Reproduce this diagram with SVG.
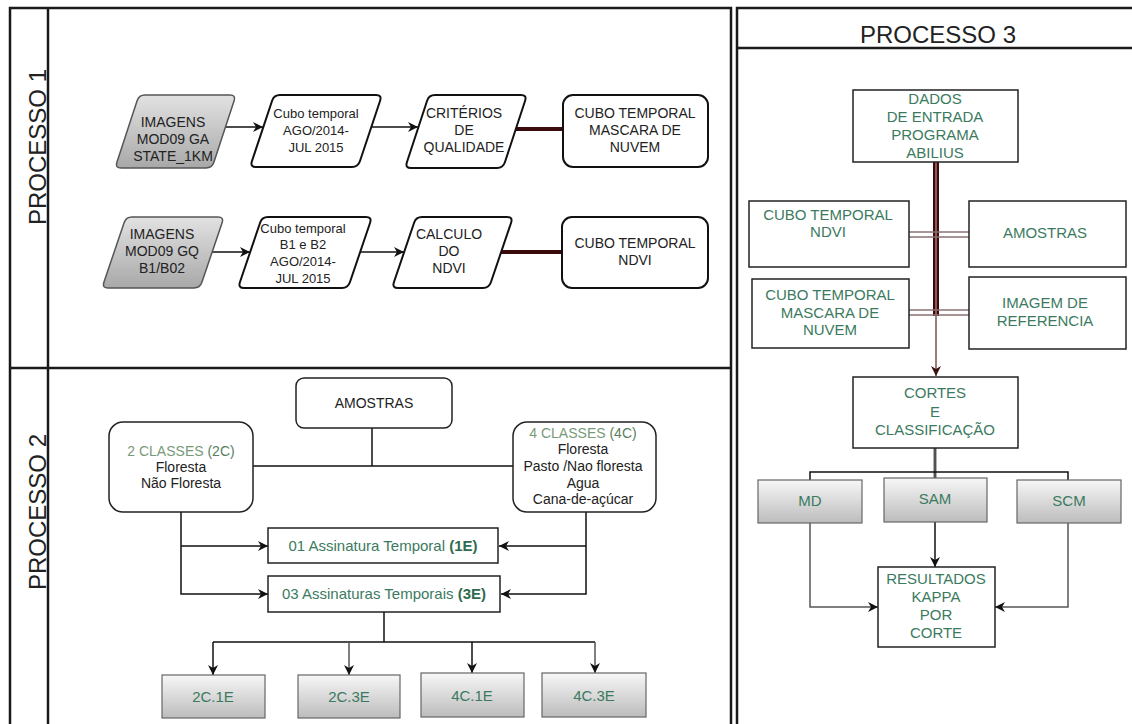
<svg xmlns="http://www.w3.org/2000/svg" width="1132" height="724" viewBox="0 0 1132 724">
<defs>
<linearGradient id="gPar" x1="0" y1="0" x2="0" y2="1"><stop offset="0" stop-color="#e2e2e2"/><stop offset="1" stop-color="#a8a8a8"/></linearGradient>
<linearGradient id="gBox" x1="0" y1="0" x2="0" y2="1"><stop offset="0" stop-color="#f7f7f7"/><stop offset="1" stop-color="#bcbcbc"/></linearGradient>
<marker id="ah" viewBox="0 0 10 10" refX="10" refY="5" markerWidth="10" markerHeight="10" orient="auto" markerUnits="userSpaceOnUse"><path d="M0,0 L10,5 L0,10 L3,5 Z" fill="#111"/></marker>
<marker id="ahm" viewBox="0 0 10 10" refX="10" refY="5" markerWidth="10" markerHeight="10" orient="auto" markerUnits="userSpaceOnUse"><path d="M0,0 L10,5 L0,10 L3,5 Z" fill="#3a1010"/></marker>
<style>
text{font-family:"Liberation Sans",Arial,sans-serif;text-anchor:middle;}
.frame{fill:none;stroke:#1a1a1a;stroke-width:2.5;}
.title{font-size:24px;fill:#222;}
.p1{fill:#fff;stroke:#111;stroke-width:2;}
.p1g{fill:url(#gPar);stroke:#555;stroke-width:1.5;}
.t13{font-size:13px;fill:#222;}
.t14{font-size:14px;fill:#222;}
.box{fill:#fff;stroke:#222;stroke-width:1.5;}
.gbox{fill:url(#gBox);stroke:#666;stroke-width:1.2;}
.grn{font-size:15px;fill:#3b7a5e;}
.grnb{font-weight:bold;fill:#2f6b4f;}
.ln{fill:none;stroke:#111;stroke-width:1.5;}
.lng{fill:none;stroke:#555;stroke-width:1.5;}
.thick{fill:none;stroke:#3b0b0b;stroke-width:4;}
</style>
</defs>

<!-- frames -->
<g id="frames">
<rect class="frame" x="10" y="8" width="721" height="730"/>
<line class="frame" x1="48" y1="8" x2="48" y2="730"/>
<line class="frame" x1="10" y1="368" x2="731" y2="368"/>
<rect class="frame" x="737" y="8" width="400" height="730"/>
<line class="frame" x1="737" y1="48" x2="1137" y2="48"/>
<text class="title" transform="translate(46,147) rotate(-90)">PROCESSO 1</text>
<text class="title" transform="translate(46,512) rotate(-90)">PROCESSO 2</text>
<text class="title" x="938" y="43">PROCESSO 3</text>
</g>

<!-- connectors -->
<g id="connectors">
<!-- process 1 -->
<line class="ln" x1="226" y1="127" x2="263" y2="127" marker-end="url(#ah)"/>
<line class="ln" x1="371" y1="127" x2="418" y2="127" marker-end="url(#ah)"/>
<line class="thick" x1="515" y1="129" x2="563" y2="129"/>
<line class="ln" x1="212" y1="252" x2="250" y2="252" marker-end="url(#ah)"/>
<line class="ln" x1="360" y1="252" x2="404" y2="252" marker-end="url(#ah)"/>
<line class="thick" x1="501" y1="252" x2="562" y2="252"/>
<!-- process 2 -->
<line class="ln" x1="372" y1="428" x2="372" y2="466"/>
<line class="ln" x1="253" y1="466" x2="513" y2="466"/>
<polyline class="ln" points="181,512 181,594 268,594" marker-end="url(#ah)"/>
<line class="ln" x1="181" y1="546" x2="268" y2="546" marker-end="url(#ah)"/>
<polyline class="ln" points="586,512 586,594 501,594" marker-end="url(#ah)"/>
<line class="ln" x1="586" y1="546" x2="499" y2="546" marker-end="url(#ah)"/>
<line class="ln" x1="384" y1="612" x2="384" y2="642"/>
<line class="ln" x1="213" y1="642" x2="595" y2="642"/>
<line class="ln" x1="213" y1="642" x2="213" y2="675" marker-end="url(#ah)"/>
<line class="lng" x1="349" y1="642" x2="349" y2="675" marker-end="url(#ah)"/>
<line class="ln" x1="472" y1="642" x2="472" y2="673" marker-end="url(#ah)"/>
<line class="lng" x1="595" y1="642" x2="595" y2="673" marker-end="url(#ah)"/>
<!-- process 3 -->
<line x1="936" y1="162" x2="936" y2="316" stroke="#3b0b0b" stroke-width="6"/>
<line x1="936" y1="162" x2="936" y2="316" stroke="#8a5a5a" stroke-width="2"/>
<g stroke="#8a7070" stroke-width="1.3">
<line x1="909" y1="232" x2="969" y2="232"/>
<line x1="909" y1="237" x2="969" y2="237"/>
<line x1="909" y1="310" x2="969" y2="310"/>
<line x1="909" y1="315" x2="969" y2="315"/>
</g>
<line x1="936" y1="316" x2="936" y2="376" stroke="#7a5050" stroke-width="1.5" marker-end="url(#ahm)"/>
<line x1="935" y1="448" x2="935" y2="478" stroke="#999" stroke-width="3.5"/>
<line x1="935" y1="448" x2="935" y2="478" stroke="#222" stroke-width="1.2"/>
<polyline class="ln" points="810,480 810,472 1068,472 1068,480" stroke="#333"/>
<line class="ln" x1="935" y1="522" x2="935" y2="567" marker-end="url(#ah)"/>
<polyline class="lng" points="810,523 810,607 878,607" marker-end="url(#ah)"/>
<polyline class="lng" points="1068,523 1068,607 995,607" marker-end="url(#ah)"/>
</g>

<!-- process 1 nodes -->
<g id="n-mod09ga">
<path class="p1g" d="M145,95 H230 Q236,95 234.1,100.7 L213.9,162.3 Q212,168 206,168 H121 Q115,168 116.9,162.3 L137.1,100.7 Q139,95 145,95 Z"/>
<text class="t14" x="173" y="127">IMAGENS</text>
<text class="t14" x="173" y="144">MOD09 GA</text>
<text class="t14" x="173" y="161">STATE_1KM</text>
</g>
<g id="n-cubo1">
<path class="p1" d="M280,95 H376 Q382,95 380.1,100.7 L359.9,161.3 Q358,167 352,167 H256 Q250,167 251.9,161.3 L272.1,100.7 Q274,95 280,95 Z"/>
<text class="t13" x="316" y="118">Cubo temporal</text>
<text class="t13" x="316" y="135">AGO/2014-</text>
<text class="t13" x="316" y="152">JUL 2015</text>
</g>
<g id="n-criterios">
<path class="p1" d="M435,95 H521 Q527,95 525.1,100.7 L504.9,162.3 Q503,168 497,168 H411 Q405,168 406.9,162.3 L427.1,100.7 Q429,95 435,95 Z"/>
<text class="t14" x="464" y="118">CRITÉRIOS</text>
<text class="t14" x="464" y="135">DE</text>
<text class="t14" x="464" y="152">QUALIDADE</text>
</g>
<g id="n-mascara">
<rect class="p1" x="563" y="95" width="145" height="72" rx="10"/>
<text class="t14" x="635" y="118">CUBO TEMPORAL</text>
<text class="t14" x="635" y="135">MASCARA DE</text>
<text class="t14" x="635" y="152">NUVEM</text>
</g>
<g id="n-mod09gq">
<path class="p1g" d="M132,217 H218 Q224,217 222.1,222.7 L201.9,282.3 Q200,288 194,288 H108 Q102,288 103.9,282.3 L124.1,222.7 Q126,217 132,217 Z"/>
<text class="t14" x="162" y="239">IMAGENS</text>
<text class="t14" x="162" y="256">MOD09 GQ</text>
<text class="t14" x="162" y="273">B1/B02</text>
</g>
<g id="n-cubo2">
<path class="p1" d="M268,217 H366 Q372,217 370.1,222.7 L349.9,282.3 Q348,288 342,288 H244 Q238,288 239.9,282.3 L260.1,222.7 Q262,217 268,217 Z"/>
<text class="t13" x="303" y="233">Cubo temporal</text>
<text class="t13" x="303" y="249">B1 e B2</text>
<text class="t13" x="303" y="266">AGO/2014-</text>
<text class="t13" x="303" y="283">JUL 2015</text>
</g>
<g id="n-ndvi-calc">
<path class="p1" d="M422,217 H507 Q513,217 511.1,222.7 L490.9,282.3 Q489,288 483,288 H398 Q392,288 393.9,282.3 L414.1,222.7 Q416,217 422,217 Z"/>
<text class="t14" x="449" y="239">CALCULO</text>
<text class="t14" x="449" y="256">DO</text>
<text class="t14" x="449" y="273">NDVI</text>
</g>
<g id="n-cubo-ndvi">
<rect class="p1" x="562" y="217" width="146" height="71" rx="10"/>
<text class="t14" x="635" y="248">CUBO TEMPORAL</text>
<text class="t14" x="635" y="265">NDVI</text>
</g>

<!-- process 2 nodes -->
<g id="n-amostras2">
<rect class="box" x="296" y="378" width="156" height="50" rx="8"/>
<text class="t14" x="374" y="408">AMOSTRAS</text>
</g>
<g id="n-2c">
<rect class="box" x="109" y="422" width="144" height="90" rx="14"/>
<text class="t14" x="181" y="456"><tspan fill="#789a78">2 CLASSES </tspan><tspan fill="#5a8060">(2C)</tspan></text>
<text class="t14" x="181" y="472">Floresta</text>
<text class="t14" x="181" y="488">Não Floresta</text>
</g>
<g id="n-4c">
<rect class="box" x="513" y="422" width="143" height="90" rx="14"/>
<text class="t14" x="583" y="438"><tspan fill="#789a78">4 CLASSES </tspan><tspan fill="#5a8060">(4C)</tspan></text>
<text class="t14" x="583" y="454">Floresta</text>
<text class="t14" x="583" y="471">Pasto /Nao floresta</text>
<text class="t14" x="583" y="488">Agua</text>
<text class="t14" x="583" y="504">Cana-de-açúcar</text>
</g>
<g id="n-1e">
<rect class="box" x="268" y="528" width="230" height="35"/>
<text class="grn" x="383" y="551">01 Assinatura Temporal <tspan class="grnb">(1E)</tspan></text>
</g>
<g id="n-3e">
<rect class="box" x="268" y="576" width="232" height="36"/>
<text class="grn" x="384" y="599">03 Assinaturas Temporais <tspan class="grnb">(3E)</tspan></text>
</g>
<g id="n-2c1e"><rect class="gbox" x="162" y="675" width="103" height="43"/><text class="grn" x="213" y="702">2C.1E</text></g>
<g id="n-2c3e"><rect class="gbox" x="298" y="675" width="102" height="43"/><text class="grn" x="349" y="702">2C.3E</text></g>
<g id="n-4c1e"><rect class="gbox" x="421" y="673" width="103" height="44"/><text class="grn" x="472" y="701">4C.1E</text></g>
<g id="n-4c3e"><rect class="gbox" x="542" y="673" width="104" height="44"/><text class="grn" x="594" y="701">4C.3E</text></g>

<!-- process 3 nodes -->
<g id="n-dados">
<rect class="box" x="853" y="90" width="165" height="72"/>
<text class="grn" x="935" y="104">DADOS</text>
<text class="grn" x="935" y="122">DE ENTRADA</text>
<text class="grn" x="935" y="140">PROGRAMA</text>
<text class="grn" x="935" y="158">ABILIUS</text>
</g>
<g id="n-p3-ndvi">
<rect class="box" x="749" y="201" width="160" height="66"/>
<text class="grn" x="828" y="220">CUBO TEMPORAL</text>
<text class="grn" x="828" y="237">NDVI</text>
</g>
<g id="n-p3-amostras">
<rect class="box" x="969" y="201" width="157" height="66"/>
<text class="grn" x="1045" y="238">AMOSTRAS</text>
</g>
<g id="n-p3-mascara">
<rect class="box" x="752" y="279" width="157" height="69"/>
<text class="grn" x="830" y="300">CUBO TEMPORAL</text>
<text class="grn" x="830" y="318">MASCARA DE</text>
<text class="grn" x="830" y="335">NUVEM</text>
</g>
<g id="n-p3-imagem">
<rect class="box" x="969" y="277" width="157" height="72"/>
<text class="grn" x="1045" y="308">IMAGEM DE</text>
<text class="grn" x="1045" y="326">REFERENCIA</text>
</g>
<g id="n-cortes">
<rect class="box" x="853" y="377" width="165" height="71"/>
<text class="grn" x="935" y="398">CORTES</text>
<text class="grn" x="935" y="417">E</text>
<text class="grn" x="935" y="435">CLASSIFICAÇÃO</text>
</g>
<g id="n-md"><rect class="gbox" x="758" y="480" width="104" height="43"/><text class="grn" x="810" y="506">MD</text></g>
<g id="n-sam"><rect class="gbox" x="884" y="478" width="103" height="44"/><text class="grn" x="935" y="504">SAM</text></g>
<g id="n-scm"><rect class="gbox" x="1017" y="480" width="104" height="43"/><text class="grn" x="1069" y="506">SCM</text></g>
<g id="n-resultados">
<rect class="box" x="878" y="567" width="117" height="80"/>
<text class="grn" x="936" y="584">RESULTADOS</text>
<text class="grn" x="936" y="602">KAPPA</text>
<text class="grn" x="936" y="620">POR</text>
<text class="grn" x="936" y="638">CORTE</text>
</g>
</svg>
